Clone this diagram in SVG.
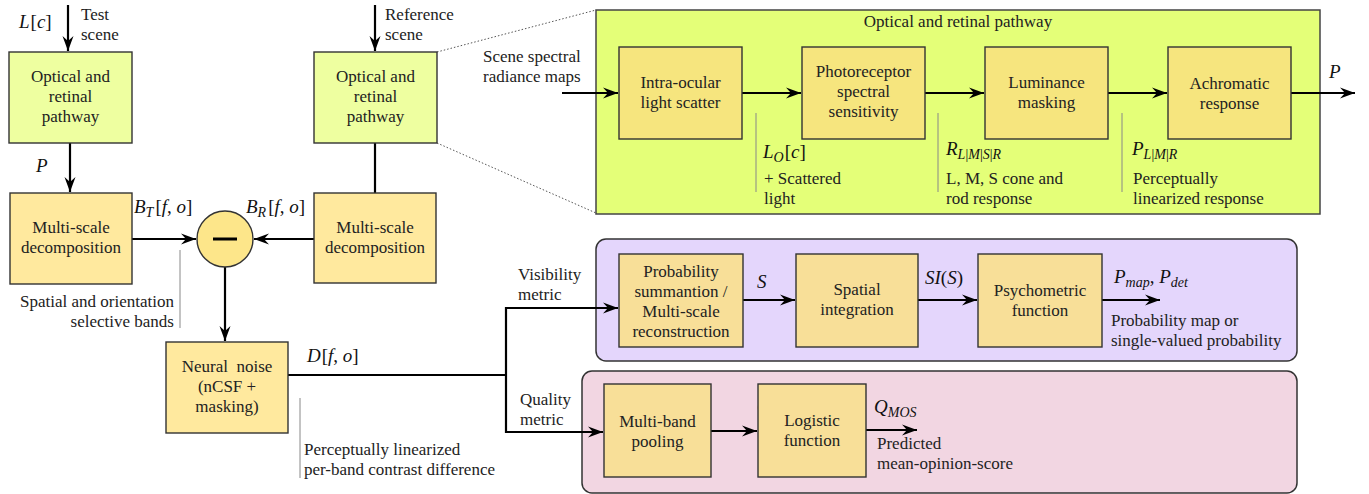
<svg xmlns="http://www.w3.org/2000/svg" width="1369" height="494" viewBox="0 0 1369 494">
<defs>
<style>
.t{font-family:"Liberation Serif","Times New Roman",serif;font-size:17px;fill:#222}
.c{text-anchor:middle}
.r{text-anchor:end}
.m{font-family:"Liberation Serif","Times New Roman",serif;font-size:19px;font-style:italic;fill:#111}
.u{font-style:normal}
.s{font-size:14px}
.bg{fill:#eeffa0;stroke:#333;stroke-width:1.4}
.by{fill:#ffe99e;stroke:#333;stroke-width:1.4}
.bp{fill:#f6e57e;stroke:#333;stroke-width:1.4}
.bq{fill:#f8df98;stroke:#333;stroke-width:1.4}
.ln{fill:none;stroke:#000;stroke-width:2.2}
.ar{fill:none;stroke:#000;stroke-width:2.2;marker-end:url(#ah)}
.gl{stroke:#888;stroke-width:1}
.dt{stroke:#555;stroke-width:1;stroke-dasharray:1.5 2}
</style>
<marker id="ah" markerUnits="userSpaceOnUse" markerWidth="20" markerHeight="14" viewBox="-16 -7 18 14" refX="0" refY="0" orient="auto">
<path d="M0,0 L-15,-5.5 L-10,0 L-15,5.5 z" fill="#000"/>
</marker>
</defs>

<g id="panel-optical">
<rect x="596" y="10" width="724" height="204" fill="#e4ff78" stroke="#444" stroke-width="1.5"/>
<text class="t c" x="958" y="27">Optical and retinal pathway</text>
</g>
<g id="panel-visibility">
<rect x="596" y="239" width="701" height="122" rx="10" fill="#e4d6fc" stroke="#333" stroke-width="1.5"/>
</g>
<g id="panel-quality">
<rect x="582" y="371" width="715" height="122" rx="10" fill="#f2d6e2" stroke="#333" stroke-width="1.5"/>
</g>

<g id="connectors">
<line class="ar" x1="68" y1="5" x2="68" y2="51"/>
<line class="ar" x1="375" y1="5" x2="375" y2="51"/>
<line class="ar" x1="70" y1="143" x2="70" y2="192"/>
<line class="ln" x1="375" y1="143" x2="375" y2="193"/>
<line class="ar" x1="132" y1="239" x2="196" y2="239"/>
<line class="ar" x1="314" y1="239" x2="254" y2="239"/>
<line class="ar" x1="225" y1="267" x2="225" y2="341"/>
<polyline class="ln" points="288,375 506,375"/>
<polyline class="ar" points="506,375 506,308 618,308"/>
<polyline class="ar" points="506,375 506,432 603,432"/>
<line class="ar" x1="743" y1="300" x2="795" y2="300"/>
<line class="ar" x1="918" y1="300" x2="977" y2="300"/>
<line class="ar" x1="1102" y1="300" x2="1160" y2="300"/>
<line class="ar" x1="711" y1="431" x2="757" y2="431"/>
<line class="ar" x1="866" y1="430" x2="917" y2="430"/>
<line class="ar" x1="562" y1="93" x2="618" y2="93"/>
<line class="ar" x1="742" y1="93" x2="801" y2="93"/>
<line class="ar" x1="925" y1="93" x2="984" y2="93"/>
<line class="ar" x1="1108" y1="93" x2="1167" y2="93"/>
<line class="ar" x1="1291" y1="93" x2="1355" y2="93"/>
<line class="dt" x1="437" y1="52" x2="596" y2="10"/>
<line class="dt" x1="437" y1="143" x2="596" y2="213"/>
<line class="gl" x1="180" y1="250" x2="180" y2="328"/>
<line class="gl" x1="300" y1="398" x2="300" y2="478"/>
<line class="gl" x1="756" y1="113" x2="756" y2="192"/>
<line class="gl" x1="938" y1="113" x2="938" y2="192"/>
<line class="gl" x1="1122" y1="113" x2="1122" y2="192"/>
</g>

<g id="labels">
<text class="m" x="19" y="28">L<tspan class="u" dx="1">[</tspan>c<tspan class="u">]</tspan></text>
<text class="t" x="81" y="20">Test</text>
<text class="t" x="81" y="40">scene</text>
<text class="t" x="385" y="20">Reference</text>
<text class="t" x="385" y="40">scene</text>
<text class="m" x="36" y="172">P</text>
<text class="m" x="134" y="213">B<tspan class="s" dy="4">T</tspan><tspan class="u" dy="-4" dx="2">[</tspan>f<tspan class="u">,</tspan> o<tspan class="u">]</tspan></text>
<text class="m" x="246" y="213">B<tspan class="s" dy="4">R</tspan><tspan class="u" dy="-4" dx="2">[</tspan>f<tspan class="u">,</tspan> o<tspan class="u">]</tspan></text>
<text class="t r" x="174" y="307">Spatial and orientation</text>
<text class="t r" x="174" y="327">selective bands</text>
<text class="m" x="307" y="362">D<tspan class="u" dx="1">[</tspan>f<tspan class="u">,</tspan> o<tspan class="u">]</tspan></text>
<text class="t" x="304" y="455">Perceptually linearized</text>
<text class="t" x="304" y="475">per-band contrast difference</text>
<text class="t" x="518" y="280">Visibility</text>
<text class="t" x="518" y="300">metric</text>
<text class="t" x="520" y="405">Quality</text>
<text class="t" x="520" y="425">metric</text>
<text class="t" x="483" y="62">Scene spectral</text>
<text class="t" x="483" y="82">radiance maps</text>
<text class="m" x="763" y="158">L<tspan class="s" dy="4">O</tspan><tspan class="u" dy="-4" dx="1">[</tspan>c<tspan class="u">]</tspan></text>
<text class="t" x="764" y="184">+ Scattered</text>
<text class="t" x="764" y="204">light</text>
<text class="m" x="946" y="155">R<tspan class="s" dy="4">L<tspan class="u">|</tspan>M<tspan class="u">|</tspan>S<tspan class="u">|</tspan>R</tspan></text>
<text class="t" x="946" y="184">L, M, S cone and</text>
<text class="t" x="946" y="204">rod response</text>
<text class="m" x="1132" y="155">P<tspan class="s" dy="4">L<tspan class="u">|</tspan>M<tspan class="u">|</tspan>R</tspan></text>
<text class="t" x="1133" y="184">Perceptually</text>
<text class="t" x="1133" y="204">linearized response</text>
<text class="m" x="1329" y="78">P</text>
<text class="m" x="757" y="288">S</text>
<text class="m" x="925" y="284">SI<tspan class="u">(</tspan>S<tspan class="u">)</tspan></text>
<text class="m" x="1114" y="283">P<tspan class="s" dy="4">map</tspan><tspan class="u" dy="-4">,</tspan> P<tspan class="s" dy="4">det</tspan></text>
<text class="t" x="1111" y="326">Probability map or</text>
<text class="t" x="1111" y="346">single-valued probability</text>
<text class="m" x="757" y="413">Q</text>
<text class="m" x="874" y="413">Q<tspan class="s" dy="4">MOS</tspan></text>
<text class="t" x="877" y="449">Predicted</text>
<text class="t" x="877" y="469">mean-opinion-score</text>
</g>

<g id="node-optical-test">
<rect class="bg" x="9" y="52" width="123" height="91"/>
<text class="t c" x="70.5" y="82">Optical and</text>
<text class="t c" x="70.5" y="102">retinal</text>
<text class="t c" x="70.5" y="122">pathway</text>
</g>
<g id="node-optical-ref">
<rect class="bg" x="314" y="52" width="123" height="91"/>
<text class="t c" x="375.5" y="82">Optical and</text>
<text class="t c" x="375.5" y="102">retinal</text>
<text class="t c" x="375.5" y="122">pathway</text>
</g>
<g id="node-msd-test">
<rect class="by" x="10" y="193" width="122" height="91"/>
<text class="t c" x="71" y="233">Multi-scale</text>
<text class="t c" x="71" y="253">decomposition</text>
</g>
<g id="node-msd-ref">
<rect class="by" x="314" y="193" width="122" height="90"/>
<text class="t c" x="375" y="233">Multi-scale</text>
<text class="t c" x="375" y="253">decomposition</text>
</g>
<g id="node-minus">
<circle cx="225" cy="239" r="28" fill="#fde68a" stroke="#333" stroke-width="1.4"/>
<line x1="213" y1="239" x2="237" y2="239" stroke="#000" stroke-width="3"/>
</g>
<g id="node-neural">
<rect class="by" x="166" y="342" width="122" height="91"/>
<text class="t c" x="227" y="372">Neural&#160; noise</text>
<text class="t c" x="227" y="392">(nCSF +</text>
<text class="t c" x="227" y="412">masking)</text>
</g>
<g id="node-scatter">
<rect class="bp" x="619" y="47" width="123" height="92"/>
<text class="t c" x="680.5" y="88">Intra-ocular</text>
<text class="t c" x="680.5" y="108">light scatter</text>
</g>
<g id="node-photoreceptor">
<rect class="bp" x="802" y="47" width="123" height="92"/>
<text class="t c" x="863.5" y="77">Photoreceptor</text>
<text class="t c" x="863.5" y="97">spectral</text>
<text class="t c" x="863.5" y="117">sensitivity</text>
</g>
<g id="node-luminance">
<rect class="bp" x="985" y="47" width="123" height="92"/>
<text class="t c" x="1046.5" y="88">Luminance</text>
<text class="t c" x="1046.5" y="108">masking</text>
</g>
<g id="node-achromatic">
<rect class="bp" x="1168" y="47" width="123" height="92"/>
<text class="t c" x="1229.5" y="89">Achromatic</text>
<text class="t c" x="1229.5" y="109">response</text>
</g>
<g id="node-probsum">
<rect class="bq" x="619" y="254" width="124" height="93"/>
<text class="t c" x="681" y="277">Probability</text>
<text class="t c" x="681" y="297">summantion /</text>
<text class="t c" x="681" y="317">Multi-scale</text>
<text class="t c" x="681" y="337">reconstruction</text>
</g>
<g id="node-spatial">
<rect class="bq" x="796" y="254" width="122" height="93"/>
<text class="t c" x="857" y="295">Spatial</text>
<text class="t c" x="857" y="315">integration</text>
</g>
<g id="node-psychometric">
<rect class="bq" x="978" y="254" width="124" height="93"/>
<text class="t c" x="1040" y="296">Psychometric</text>
<text class="t c" x="1040" y="316">function</text>
</g>
<g id="node-pooling">
<rect class="bq" x="604" y="384" width="107" height="93"/>
<text class="t c" x="657.5" y="427">Multi-band</text>
<text class="t c" x="657.5" y="447">pooling</text>
</g>
<g id="node-logistic">
<rect class="bq" x="758" y="384" width="108" height="93"/>
<text class="t c" x="812" y="426">Logistic</text>
<text class="t c" x="812" y="446">function</text>
</g>
</svg>
